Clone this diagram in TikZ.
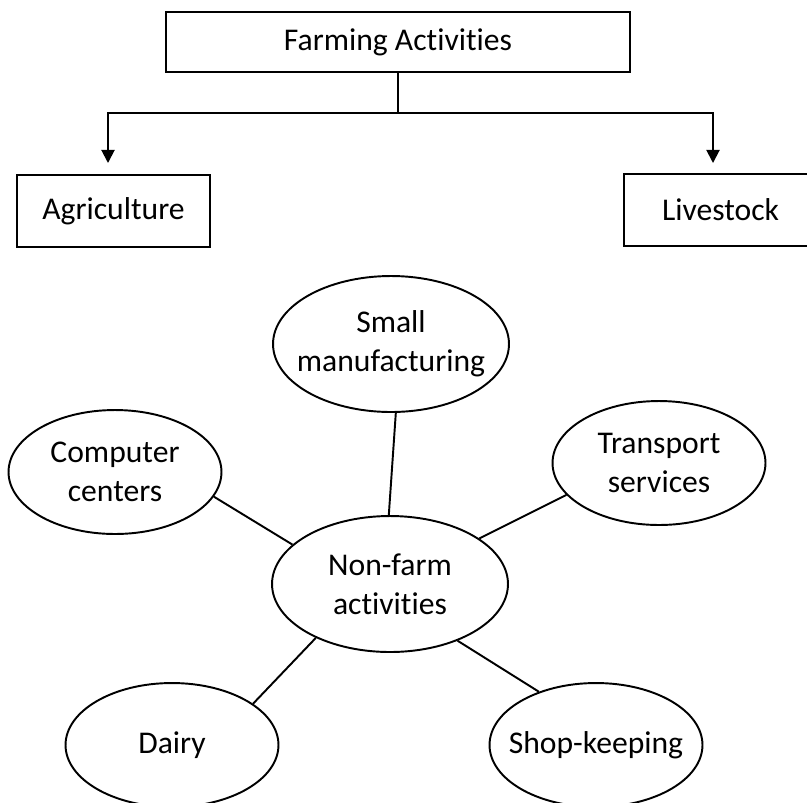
\documentclass[tikz,border=0pt]{standalone}
\usepackage{fontspec}
\setmainfont{Carlito}[Ligatures=NoCommon]
\usepackage{tikz}
\usetikzlibrary{arrows.meta}
\usetikzlibrary{shapes.geometric, positioning}

\begin{document}
\begin{tikzpicture}[
    x=0.02cm, y=-0.02cm,
    >={Triangle[length=7.5pt, width=7.5pt]},
    line width=1.1pt,
    every node/.style={font=\fontsize{18}{22.3}\selectfont, align=center, inner sep=0pt},
    box/.style={rectangle, draw, minimum height=1.44cm},
    blob/.style={ellipse, draw, inner xsep=-0.4cm, minimum width=4.26cm, minimum height=2.48cm}
]
\useasboundingbox (0,0) rectangle (807,802);

% Nodes
\node[box, minimum width=9.28cm, minimum height=1.2cm] (farm) at (398,42) {Farming Activities};
\node[box, minimum width=3.86cm] (agri) at (113.5,211) {Agriculture};
\node[box, minimum width=3.86cm] (live) at (720.5,210) {Livestock};

\node[blob, minimum width=4.72cm, minimum height=2.72cm] (nonfarm) at (390,584) {Non-farm\\activities};
\node[blob, minimum width=4.72cm, minimum height=2.72cm] (manuf) at (391,344) {Small\\manufacturing};
\node[blob] (comp) at (115,472) {Computer\\centers};
\node[blob] (trans) at (659,463) {Transport\\services};
\node[blob] (dairy) at (172,745) {Dairy};
\node[blob] (shop) at (596,745) {Shop-keeping};

\coordinate (fork) at (398,113);
\coordinate (agritip) at (108,163);
\coordinate (livetip) at (713,163);

% Farming tree
\draw (farm.south) -- (fork);
\draw[->] (fork) -| (agritip);
\draw[->] (fork) -| (livetip);

% Non-farm links
\draw (nonfarm.91) -- (manuf.-86);
\draw (nonfarm.158) -- (comp.-14);
\draw (nonfarm.27) -- (trans.-161);
\draw (nonfarm.-144) -- (dairy.27);
\draw (nonfarm.-40) -- (shop.137);

\end{tikzpicture}
\end{document}
